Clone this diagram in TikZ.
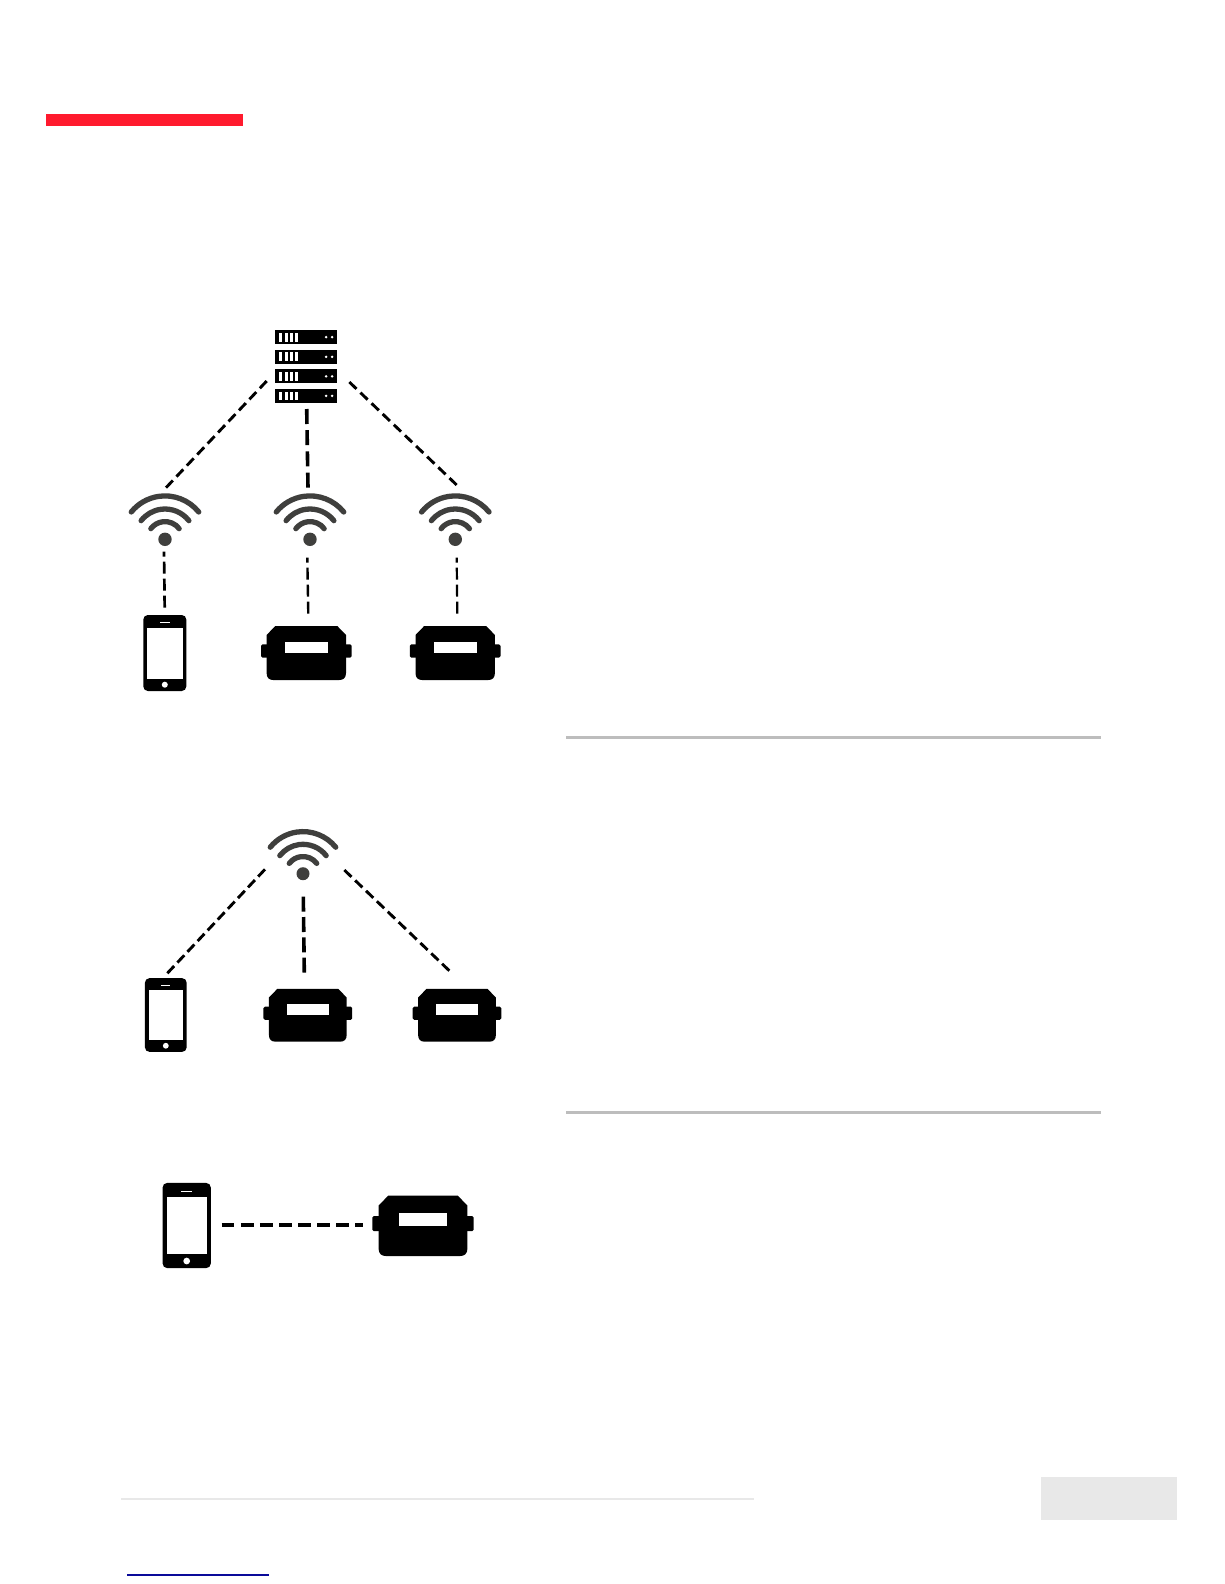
\documentclass[tikz,border=0pt]{standalone}
\usetikzlibrary{calc}
\definecolor{wifigray}{HTML}{3F3F3D}
\definecolor{redbar}{HTML}{FF1A2E}
\definecolor{rulegray}{HTML}{BDBDBD}
\definecolor{footgray}{HTML}{E8E8E8}
\definecolor{linkblue}{HTML}{0A0A99}
\tikzset{
  link/.style={draw=black,line width=#1},
  link/.default=2.9pt,
  shortdash/.style={dash pattern=on 10pt off #1pt},
  middash/.style={dash pattern=on 12pt off 5pt,dash phase=7pt},
  longdash/.style={dash pattern=on 15pt off #1pt},
  wirelessicon/.pic={
    \fill[wifigray] (0,0) circle (6.7);
    \foreach \r/\a in {17.7/37,30.3/38,43.4/39}{
      \draw[wifigray,line width=5.3pt,line cap=round] (-\a:\r) arc[start angle=-\a,delta angle={-(180-2*\a)},radius=\r];
    }
  },
  phoneicon/.pic={
    \fill[black,rounded corners=4.5] (-21.5,-38) rectangle (21.5,38);
    \fill[white] (-17.7,-25.3) rectangle (17.7,25.7);
    \fill[white] (0,31.7) circle (3);
    \fill[white] (-4.7,-30.9) rectangle (4.7,-29.7);
  },
  metericon/.pic={
    \fill[black,rounded corners=1.5] (-45.3,-8.7) rectangle (45.3,4.7);
    \fill[black] (-31,-27) -- (31,-27) -- (39.7,-18) -- (39.7,20)
       .. controls (39.7,25) and (37,27) .. (33,27) -- (-33,27)
       .. controls (-37,27) and (-39.7,25) .. (-39.7,20) -- (-39.7,-18) -- cycle;
    \fill[white] (-21.7,-11) rectangle (21.7,0);
  },
  serverrow/.pic={
    \fill[black] (0,0) rectangle (62.6,14.2);
    \foreach \x in {4.7,9.9,15.1,20.3}{\fill[white] (\x,2.7) rectangle ++(3,8.8);}
    \fill[white] (51.4,7.1) circle (1.4);
    \fill[white] (57.4,7.1) circle (1.4);
  }
}
\begin{document}
\begin{tikzpicture}[x=1pt,y=-1pt]
\useasboundingbox (0,0) rectangle (1224,1584);
\fill[white] (0,0) rectangle (1224,1584);
% header, rules, footer
\fill[redbar] (46,114) rectangle (242.7,126);
\fill[rulegray] (566,736) rectangle (1100.7,738.8);
\fill[rulegray] (566,1111) rectangle (1100.7,1113.8);
\fill[footgray] (121,1498) rectangle (753.5,1500);
\fill[footgray] (1041,1477) rectangle (1176.5,1520);
\fill[linkblue] (127,1574.4) rectangle (269,1576);
% top group icons
\path (274.7,330) pic {serverrow};
\path (274.7,349.7) pic {serverrow};
\path (274.7,369.2) pic {serverrow};
\path (274.7,388.8) pic {serverrow};
\path (165,539.3) pic {wirelessicon};
\path (310,539.3) pic {wirelessicon};
\path (455.3,539.3) pic {wirelessicon};
\path (164.8,653) pic {phoneicon};
\path (306.3,653) pic {metericon};
\path (455.2,653) pic {metericon};
% top group connectors
\coordinate (srvL) at (266.7,381);
\coordinate (srvM) at (306.7,409);
\coordinate (srvR) at (349.3,382);
\coordinate (wifiAtop) at (166,487.7);
\coordinate (wifiBtop) at (308,487.7);
\coordinate (wifiCtop) at (456.7,485);
\coordinate (wifiAbot) at (164,551.7);
\coordinate (wifiBbot) at (307.3,557.7);
\coordinate (wifiCbot) at (456.7,557.7);
\coordinate (phoneA) at (164.7,609);
\coordinate (meterA) at (308.3,615);
\coordinate (meterB) at (457.3,615);
\draw[link,shortdash=5.19] (srvL) -- (wifiAtop);
\draw[link=3.6pt,longdash=6.2] (srvM) -- (wifiBtop);
\draw[link,shortdash=5.42] (srvR) -- (wifiCtop);
\draw[link=2.7pt,middash] (wifiAbot) -- (phoneA);
\draw[link=2.4pt,middash] (wifiBbot) -- (meterA);
\draw[link=2.2pt,middash] (wifiCbot) -- (meterB);
% middle group icons
\path (303,873.7) pic[scale=.97] {wirelessicon};
\path (165.8,1015) pic[scale=.97] {phoneicon};
\path (307.8,1015.2) pic[scale=.98] {metericon};
\path (457,1015.2) pic[scale=.98] {metericon};
% middle group connectors
\coordinate (hubL) at (265,869.3);
\coordinate (hubM) at (303.3,896.7);
\coordinate (hubR) at (344.3,870);
\coordinate (phoneB) at (167.3,973.3);
\coordinate (meterC) at (304.3,972.7);
\coordinate (meterD) at (449.3,970.7);
\draw[link,shortdash=4.74] (hubL) -- (phoneB);
\draw[link=3.6pt,longdash=5.3] (hubM) -- (meterC);
\draw[link,shortdash=5.06] (hubR) -- (meterD);
% bottom group
\path (186.7,1225.5) pic[scale=1.12] {phoneicon};
\path (423,1225.8) pic[scale=1.12] {metericon};
\coordinate (phoneC) at (221.7,1224.7);
\coordinate (meterE) at (363.3,1224.7);
\draw[link=3.6pt,dash pattern=on 12.7pt off 6.4pt] (phoneC) -- (meterE);
\end{tikzpicture}
\end{document}
